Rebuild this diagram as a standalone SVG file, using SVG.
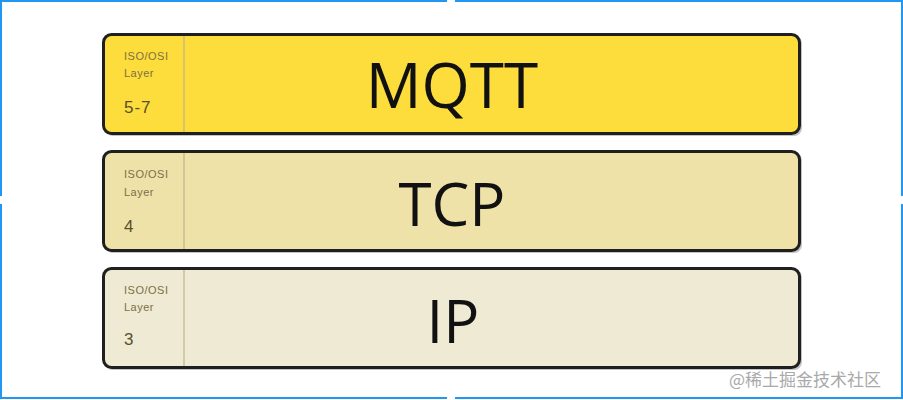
<svg xmlns="http://www.w3.org/2000/svg" width="903" height="400" viewBox="0 0 903 400">
<defs>
<style>
.box{stroke:#1f1f1f;stroke-width:3}
.shadow{fill:#555;opacity:0.35}
.div{stroke:#bfb48a;stroke-width:1.2}
.small{font-family:"Liberation Sans",Arial,sans-serif;font-size:11px;letter-spacing:0.5px;fill:#7d6f45}
.num{font-family:"Liberation Sans",Arial,sans-serif;font-size:17px;letter-spacing:1px;fill:#5a4f2c}
.big{font-family:"Open Sans","Liberation Sans",sans-serif;fill:#111;text-anchor:middle}
.wm{font-family:"Noto Sans CJK SC","Liberation Sans",sans-serif;font-size:17px;fill:#a9a9a9}
.frame{fill:none;stroke:#2196f3;stroke-width:2}
.handle{fill:#fff}
</style>
</defs>
<rect width="903" height="400" fill="#fff"/>
<g id="frame">
<rect class="frame" x="1" y="1" width="901" height="397"/>
<circle class="handle" cx="451" cy="1" r="4"/>
<circle class="handle" cx="451" cy="398" r="4"/>
<circle class="handle" cx="1" cy="200" r="4"/>
<circle class="handle" cx="902" cy="200" r="4"/>
</g>
<g id="layer-mqtt">
<rect class="shadow" x="105" y="36" width="697" height="100" rx="8"/>
<rect class="box" x="103.5" y="34.5" width="696" height="99" rx="8" fill="#fddd3b"/>
<line class="div" x1="184" y1="36" x2="184" y2="132"/>
<text class="small" x="124" y="60">ISO/OSI</text>
<text class="small" x="124" y="77">Layer</text>
<text class="num" x="124" y="113">5-7</text>
<text class="big" x="452" y="108" font-size="62">MQTT</text>
</g>
<g id="layer-tcp">
<rect class="shadow" x="105" y="153" width="697" height="100" rx="8"/>
<rect class="box" x="103.5" y="151.5" width="696" height="99" rx="8" fill="#efe2a9"/>
<line class="div" x1="184" y1="153" x2="184" y2="249"/>
<text class="small" x="124" y="178">ISO/OSI</text>
<text class="small" x="124" y="196">Layer</text>
<text class="num" x="124" y="232">4</text>
<text class="big" x="452" y="226" font-size="60">TCP</text>
</g>
<g id="layer-ip">
<rect class="shadow" x="105" y="270" width="697" height="100" rx="8"/>
<rect class="box" x="103.5" y="268.5" width="696" height="99" rx="8" fill="#efead4"/>
<line class="div" x1="184" y1="270" x2="184" y2="366"/>
<text class="small" x="124" y="294">ISO/OSI</text>
<text class="small" x="124" y="311">Layer</text>
<text class="num" x="124" y="345">3</text>
<text class="big" x="453" y="343" font-size="60">IP</text>
</g>
<g id="connectors"/>
<text class="wm" x="729" y="386">@稀土掘金技术社区</text>
</svg>
